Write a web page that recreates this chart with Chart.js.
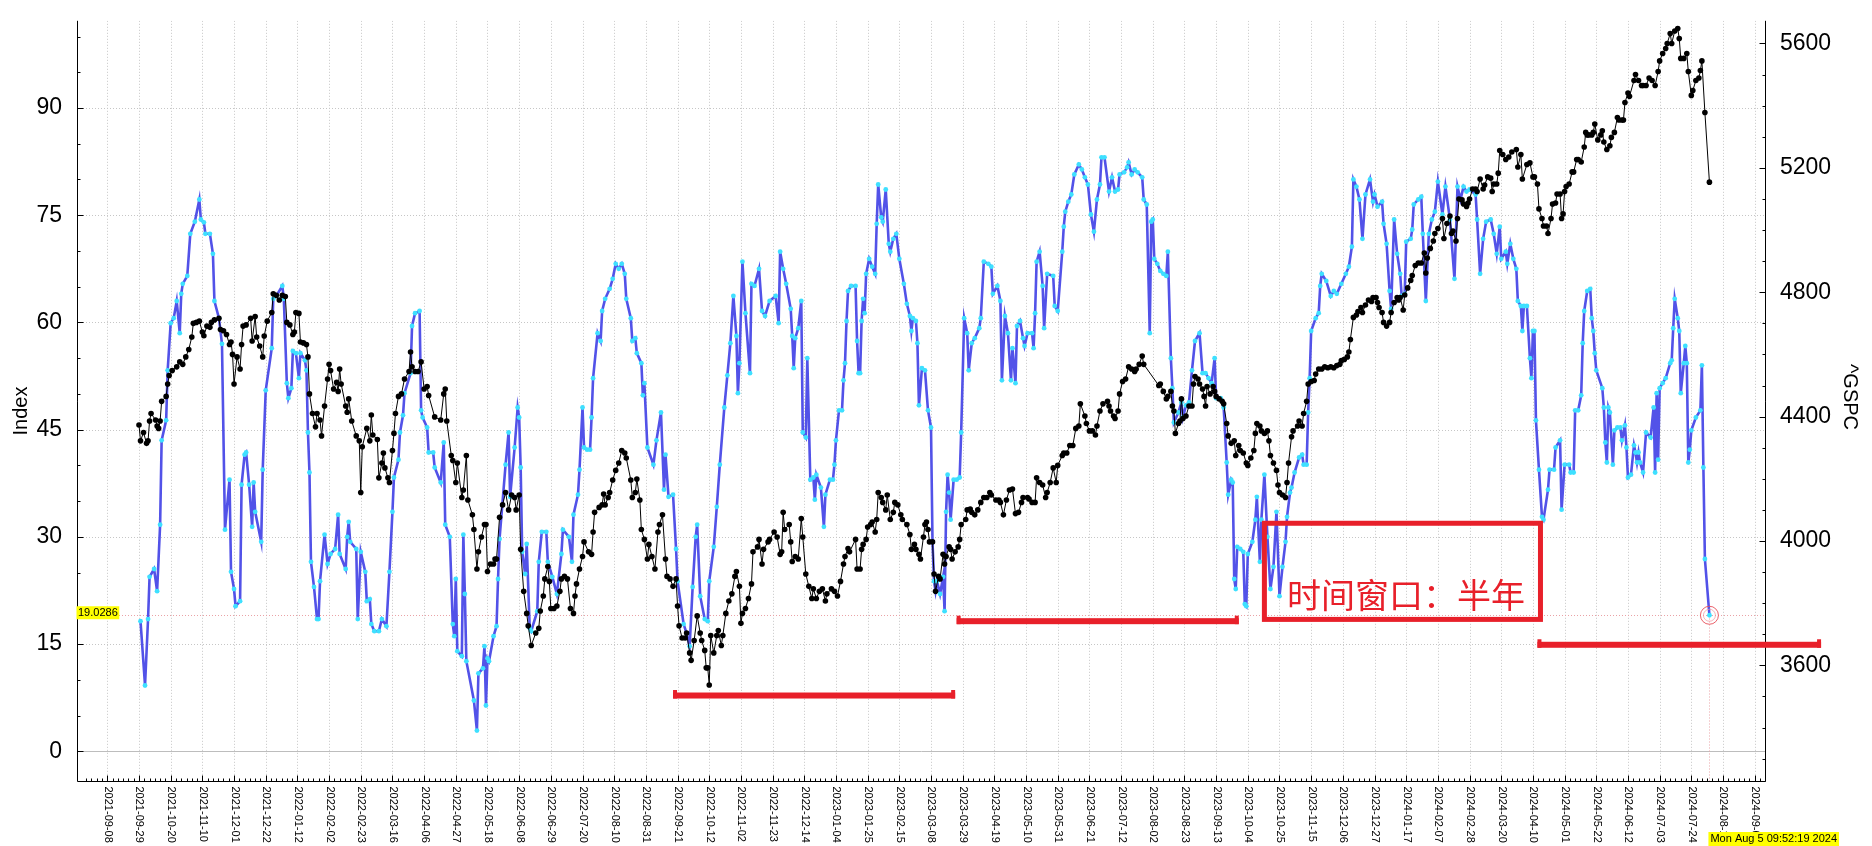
<!DOCTYPE html>
<html>
<head>
<meta charset="utf-8">
<script src="https://cdn.jsdelivr.net/npm/chart.js@4.4.0/dist/chart.umd.min.js"></script>
<style>
  html, body { margin: 0; padding: 0; background: #fff; overflow: hidden; }
  #wrap { width: 1872px; height: 846px; }
</style>
</head>
<body>
<div id="wrap"><canvas id="chart" width="1872" height="846"></canvas></div>
<script>
// x values are days after 2021-09-08 (first x tick)
const T0 = Date.UTC(2021, 8, 8);

// blue "Index" series: [day, value]
const fearGreed = [
  [22,18.2],[25,9.2],[27,18.5],[28,24.4],[31,25.5],[33,22.4],[35,31.7],[36,43.5],[39,46.3],[40,53.3],
  [42,59.9],[44,60.6],[46,63],[48,58.5],[49,64],[50,65.4],[53,66.5],[55,72.4],[58,74.1],[61,77.2],
  [62,74.4],[64,74],[65,72.4],[68,72.4],[70,69.6],[71,63],[74,60.6],[76,57],[78,31],[81,38],
  [82,25.1],[84,22.7],[85,20.3],[88,21],[89,37.3],[91,41.5],[92,41.8],[94,37.3],[96,31.4],[97,37.6],
  [98,33.5],[102,29.3],[103,39.4],[105,50.5],[109,56.4],[110,63.3],[112,63.7],[116,65.1],[117,63.3],[119,51.5],
  [120,49.4],[122,50.8],[123,56],[125,55.7],[127,52.2],[128,55.7],[131,54.7],[132,53.3],[133,44.6],[134,39],
  [135,26.5],[137,23],[139,18.5],[140,18.5],[141,23.8],[144,30.3],[146,26.2],[148,27.6],[151,28.3],[153,33.1],
  [154,27.6],[158,25.5],[159,30],[160,32.1],[161,29.3],[165,28.3],[166,18.5],[168,27.9],[171,25.1],[172,21],
  [174,21.3],[175,17.8],[177,16.8],[180,16.8],[182,18.5],[185,17.5],[187,25.1],[189,33.5],[190,38.3],[193,40.8],
  [194,44.6],[196,47],[197,50.1],[201,52.9],[202,59.5],[204,61.3],[207,61.6],[208,47.7],[209,46.7],[212,45.3],
  [213,41.8],[216,41.8],[217,39.7],[221,37.6],[223,43.2],[224,31.7],[227,30],[229,17.8],[230,16.1],[231,24.1],
  [232,14],[235,13.3],[236,30.3],[237,22],[238,12.6],[243,7.1],[245,2.9],[246,10.9],[249,11.6],[250,14.7],
  [251,6.4],[252,13],[253,12.6],[256,16.1],[258,17.5],[259,24.1],[260,29.7],[264,40.1],[266,44.6],[267,35.6],
  [270,42.5],[272,48.1],[273,46.7],[274,39.7],[275,27.9],[277,24.8],[278,29],[280,17.2],[281,16.8],[285,19.6],
  [286,26.5],[288,30.7],[291,30.7],[292,26.5],[295,24.4],[298,22],[301,27.6],[302,31],[306,30],[308,26.5],
  [309,33.1],[312,35.9],[313,39.4],[315,48.1],[316,42.5],[318,42.2],[320,42.2],[321,46.7],[322,52.2],[325,58.5],
  [327,57.4],[328,61.6],[330,63.3],[333,64.7],[335,66.1],[337,68.2],[339,67.5],[341,68.2],[343,66.8],[344,63.3],
  [347,60.6],[348,57.4],[350,57.8],[351,55.7],[354,54.3],[355,49.8],[356,51.5],[358,42.5],[362,40.1],[364,43.5],
  [367,47.4],[369,36.6],[370,41.5],[372,35.6],[375,35.9],[377,28.3],[378,23.8],[382,17.8],[384,16.5],[386,14.7],
  [388,23],[390,30],[391,31.7],[393,21.7],[396,18.5],[398,18.2],[399,23.8],[402,28.6],[404,34.2],[406,40.1],
  [409,48.1],[411,52.6],[413,57.1],[415,63.7],[417,58.1],[418,50.1],[419,54.3],[421,68.5],[423,61.3],[426,52.9],
  [427,65.4],[429,65.1],[432,67.5],[434,61.6],[436,60.9],[439,63],[443,63.7],[445,59.9],[446,69.9],[448,67.5],
  [450,65.4],[453,61.9],[454,58.1],[455,53.6],[456,57.8],[458,59.2],[460,63],[461,44.6],[463,43.9],[464,55],
  [466,38],[468,38.3],[469,35.2],[470,38.7],[473,36.9],[475,31.4],[476,35.9],[479,38],[481,38],[482,40.1],
  [483,43.5],[485,47.7],[487,47.7],[488,51.9],[489,54.3],[490,60.2],[491,64.4],[493,65.1],[496,65.1],[497,57.4],
  [498,52.9],[499,52.9],[500,60.2],[501,63.3],[502,61.3],[503,66.8],[505,68.9],[507,67.8],[509,66.8],[510,73.8],
  [511,79.3],[513,74.7],[514,74.1],[516,78.6],[518,71],[519,69.9],[521,71.7],[523,72.4],[525,68.9],[528,65.4],
  [530,62.6],[532,60.9],[533,58.8],[534,60.6],[536,60.2],[537,57.1],[538,48.4],[540,53.6],[542,53.3],[544,47.7],
  [546,45.3],[547,29.3],[548,23.8],[549,22.4],[550,23.8],[552,22],[554,24.4],[555,19.6],[556,33.5],[557,38.7],
  [558,36.2],[559,32.4],[561,38],[563,38],[565,38.3],[566,44.6],[568,60.6],[570,58.5],[571,53.3],[573,57.1],
  [575,57.8],[578,59.2],[579,60.6],[581,68.5],[584,68.2],[586,67.8],[587,64],[590,65.1],[592,63],[593,51.9],
  [595,60.9],[597,58.5],[599,51.9],[600,56.4],[602,51.5],[603,59.5],[605,60.2],[607,57.8],[608,56.7],[610,58.5],
  [613,58.5],[614,56.4],[615,61.3],[616,68.5],[618,69.9],[620,65.1],[621,59.2],[623,66.8],[627,66.5],[628,62.3],
  [630,61.6],[633,69.9],[634,73.4],[635,75.5],[637,76.9],[639,77.9],[641,80.7],[644,82.1],[646,81.4],[648,80.3],
  [650,79.3],[652,75.1],[654,72.7],[656,77.2],[658,79.3],[659,83.1],[661,83.1],[664,78.3],[666,80.3],[668,78.3],
  [670,78.6],[671,80.7],[674,81],[676,81.7],[677,82.4],[679,80.7],[681,81.4],[683,81],[686,80.3],[687,77.2],
  [689,76.5],[691,58.5],[692,74.1],[693,74.4],[694,68.9],[696,68.2],[698,67.2],[700,66.8],[702,66.5],[703,69.9],
  [705,55],[706,50.8],[707,46],[710,47.4],[712,48.8],[713,46.7],[715,48.4],[717,48.8],[719,53.3],[721,57.4],
  [724,58.5],[726,52.9],[728,52.9],[730,52.2],[732,51.5],[734,55],[735,49.4],[738,49.4],[740,48.1],[742,40.4],
  [743,35.9],[745,38],[746,37.6],[747,24.1],[748,22.7],[749,28.6],[751,28.3],[753,27.9],[754,20.6],[755,20.3],
  [756,27.6],[759,29.3],[761,32.4],[762,35.6],[764,26.5],[765,32.4],[767,38.7],[769,30],[771,22.7],[773,25.8],
  [775,33.5],[777,21.7],[779,25.8],[781,29.3],[782,32.8],[784,36.2],[785,36.9],[787,39],[790,41.1],[792,41.5],
  [793,40.1],[795,40.1],[796,47.4],[797,52.2],[798,58.8],[801,60.6],[803,61.3],[804,65.1],[805,66.8],[808,65.8],
  [811,63.7],[813,64.4],[815,64],[818,65.4],[821,66.8],[823,67.8],[825,70.6],[826,80],[828,79],[830,77.2],
  [832,71.7],[834,77.9],[837,80],[839,76.9],[840,77.9],[842,76.2],[845,76.9],[846,73.8],[848,71],[850,64.4],
  [851,61.9],[853,74.4],[855,69.6],[857,66.8],[858,63.7],[860,64],[861,71.3],[864,71.7],[865,73],[866,76.5],
  [869,77.2],[871,77.6],[872,72.4],[874,63],[876,72.4],[878,74.4],[880,75.5],[882,79.7],[885,75.1],[887,79],
  [890,74.4],[893,66.1],[895,79],[897,77.2],[899,79],[901,78.3],[903,78.6],[907,77.9],[908,74.4],[910,66.8],
  [912,71.7],[914,74.1],[917,74.4],[919,72.4],[921,69.6],[923,73.4],[924,68.9],[927,69.9],[928,68.2],[930,71],
  [932,68.9],[934,67.5],[935,63],[937,62.3],[938,58.8],[939,62.3],[941,62.3],[943,55],[944,52.2],[945,58.8],
  [946,58.8],[947,46.3],[949,39.4],[951,32.8],[952,32.4],[955,36.6],[956,39.4],[959,39.4],[960,42.5],[963,43.5],
  [964,33.8],[966,40.1],[969,40.1],[970,39],[972,39],[973,47.7],[975,47.7],[977,49.8],[978,57.1],[979,61.6],
  [981,64.4],[983,64.7],[984,60.6],[985,58.8],[986,55.7],[987,53.3],[991,50.8],[992,48.1],[993,43.2],[994,40.4],
  [995,48.1],[996,47.4],[998,40.1],[999,44.9],[1001,45.3],[1003,45.3],[1004,43.5],[1006,45.6],[1007,42.5],[1008,38.3],
  [1010,38.7],[1012,42.8],[1013,41.8],[1014,40.4],[1015,41.8],[1016,40.4],[1018,39],[1020,44.6],[1023,43.9],[1025,48.1],
  [1026,39],[1027,50.1],[1028,40.8],[1029,50.8],[1031,51.5],[1033,52.2],[1036,54.3],[1037,54.7],[1038,59.2],[1039,63.3],
  [1041,60.6],[1042,58.8],[1043,50.1],[1045,54.3],[1046,56.7],[1047,54.3],[1048,40.4],[1049,42.2],[1050,44.9],[1053,46.7],
  [1056,47.7],[1057,54],[1058,39.7],[1059,26.9],[1062,19.0286]
];

// black ^GSPC series: [day, close]
const gspc = [
  [21,4373],[22,4322],[24,4349],[26,4314],[27,4322],[28,4386],[29,4410],[32,4389],[33,4370],[34,4362],
  [35,4386],[36,4449],[39,4465],[40,4505],[41,4532],[43,4548],[46,4560],[48,4576],[50,4568],[52,4592],
  [54,4616],[56,4656],[57,4700],[59,4703],[61,4707],[63,4672],[64,4660],[66,4691],[68,4687],[69,4703],
  [71,4711],[74,4716],[75,4680],[77,4676],[79,4664],[81,4632],[82,4640],[83,4600],[84,4505],[86,4592],
  [88,4553],[89,4632],[90,4691],[92,4695],[95,4716],[96,4643],[98,4722],[99,4656],[101,4627],[103,4592],
  [104,4659],[106,4707],[109,4735],[110,4795],[112,4790],[114,4775],[116,4790],[118,4786],[119,4703],[121,4695],
  [123,4664],[124,4672],[125,4735],[127,4732],[128,4640],[130,4637],[132,4632],[133,4592],[134,4473],[136,4410],
  [138,4367],[139,4410],[141,4389],[142,4338],[144,4434],[146,4521],[147,4568],[148,4548],[150,4489],[152,4510],
  [153,4481],[154,4553],[155,4505],[158,4434],[159,4414],[160,4457],[162,4386],[165,4338],[167,4322],[168,4156],
  [169,4303],[172,4362],[174,4322],[175,4405],[176,4341],[179,4326],[180,4203],[182,4251],[183,4283],[184,4235],
  [186,4203],[187,4188],[189,4291],[190,4346],[191,4410],[193,4465],[195,4473],[197,4521],[200,4545],[201,4608],
  [202,4560],[204,4545],[206,4545],[208,4576],[210,4489],[212,4497],[213,4468],[217,4399],[221,4389],[223,4473],
  [224,4489],[225,4386],[228,4275],[229,4259],[231,4188],[232,4251],[235,4140],[236,4164],[238,4275],[239,4132],
  [242,4084],[243,4037],[245,3910],[246,3965],[248,4013],[250,4053],[251,4053],[252,3902],[254,3926],[256,3926],
  [257,3942],[258,3942],[260,4076],[262,4116],[264,4156],[266,4100],[268,4148],[270,4140],[271,4100],[273,4148],
  [274,3973],[276,3838],[278,3767],[279,3727],[281,3664],[284,3704],[286,3719],[287,3775],[289,3823],[290,3878],
  [292,3918],[293,3870],[294,3783],[296,3783],[298,3791],[300,3838],[301,3878],[303,3886],[305,3878],[307,3783],
  [309,3767],[310,3823],[311,3862],[313,3910],[315,3950],[316,3997],[319,3965],[321,3957],[322,4029],[323,4092],
  [326,4108],[328,4116],[329,4151],[330,4116],[332,4140],[333,4156],[335,4196],[337,4227],[339,4251],[341,4291],
  [343,4283],[344,4267],[347,4196],[348,4140],[350,4156],[351,4199],[353,4132],[354,4037],[356,4005],[358,3942],
  [359,3989],[361,3950],[363,3910],[365,4029],[366,4053],[368,4084],[370,3942],[371,3886],[373,3878],[375,3854],
  [377,3878],[378,3791],[379,3727],[381,3688],[383,3688],[384,3704],[386,3640],[387,3616],[389,3680],[391,3759],
  [393,3704],[394,3680],[396,3648],[397,3592],[398,3592],[399,3537],[400,3696],[402,3640],[404,3696],[405,3712],
  [407,3664],[408,3696],[410,3767],[412,3807],[414,3830],[416,3886],[417,3902],[419,3854],[420,3735],[421,3767],
  [423,3783],[425,3815],[427,3862],[428,3965],[431,3981],[432,4005],[434,3926],[435,3973],[438,3997],[439,4005],
  [442,4029],[444,4013],[446,3957],[447,3965],[448,4092],[449,4037],[452,4053],[453,3997],[454,3934],[456,3950],
  [458,3942],[460,4072],[461,4013],[463,3894],[465,3854],[467,3815],[468,3846],[470,3815],[472,3838],[474,3846],
  [476,3807],[477,3830],[480,3846],[482,3838],[484,3823],[486,3870],[488,3926],[489,3950],[491,3976],[492,3965],
  [496,4005],[497,3910],[499,3910],[500,3973],[501,3989],[503,4005],[504,4045],[506,4053],[507,4061],[509,4029],
  [510,4069],[511,4156],[513,4140],[514,4124],[516,4100],[517,4148],[519,4069],[521,4092],[522,4124],[524,4116],
  [526,4084],[527,4069],[530,4053],[532,4021],[533,3973],[535,3989],[536,3973],[538,3957],[539,3942],[541,4013],
  [542,4053],[543,4061],[544,4037],[545,3997],[547,3997],[548,3894],[549,3838],[551,3886],[552,3878],[554,3957],
  [555,3926],[556,3950],[558,3981],[559,3973],[560,3942],[562,3965],[564,3981],[565,4005],[566,4053],[569,4069],
  [570,4100],[572,4103],[573,4092],[575,4084],[577,4100],[579,4124],[581,4140],[583,4140],[585,4156],[586,4148],
  [589,4132],[591,4132],[592,4124],[594,4084],[596,4132],[598,4164],[600,4167],[602,4088],[604,4092],[606,4124],
  [607,4140],[610,4140],[611,4135],[613,4124],[615,4124],[616,4203],[618,4188],[620,4180],[622,4140],[623,4156],
  [625,4188],[627,4235],[629,4188],[630,4243],[633,4275],[634,4283],[636,4283],[638,4307],[640,4307],[642,4362],
  [644,4370],[645,4441],[648,4402],[649,4378],[651,4354],[653,4354],[655,4341],[656,4370],[658,4418],[660,4441],
  [663,4449],[664,4434],[665,4418],[667,4402],[668,4394],[670,4418],[671,4473],[673,4513],[675,4521],[677,4560],
  [679,4553],[681,4545],[682,4553],[684,4568],[686,4595],[687,4568],[697,4500],[698,4505],[700,4481],[702,4457],
  [703,4465],[705,4481],[706,4434],[707,4418],[708,4346],[710,4378],[711,4386],[712,4457],[713,4394],[715,4402],
  [717,4434],[719,4434],[720,4505],[721,4529],[723,4521],[724,4505],[726,4489],[727,4465],[728,4434],[729,4497],
  [731,4473],[733,4497],[734,4481],[735,4465],[737,4457],[739,4449],[740,4441],[742,4378],[743,4338],[745,4314],
  [747,4322],[748,4275],[750,4307],[751,4291],[753,4283],[755,4251],[756,4243],[758,4267],[760,4291],[761,4346],
  [762,4378],[764,4370],[765,4354],[767,4346],[769,4354],[770,4322],[771,4275],[773,4251],[775,4227],[776,4180],
  [777,4156],[779,4148],[781,4140],[782,4188],[783,4251],[785,4335],[786,4354],[789,4370],[790,4386],[792,4370],
  [793,4410],[795,4449],[796,4505],[798,4513],[800,4516],[801,4537],[803,4553],[805,4553],[807,4560],[809,4557],
  [811,4560],[813,4557],[815,4564],[817,4568],[818,4580],[820,4584],[822,4592],[823,4608],[824,4648],[826,4719],
  [828,4727],[829,4738],[831,4751],[832,4735],[834,4759],[836,4775],[838,4770],[839,4783],[841,4783],[842,4767],
  [843,4751],[845,4735],[846,4703],[848,4691],[850,4703],[851,4735],[853,4767],[855,4783],[856,4775],[857,4783],
  [859,4743],[860,4791],[862,4814],[864,4838],[865,4854],[867,4886],[869,4894],[871,4894],[873,4926],[874,4862],
  [875,4910],[877,4941],[879,4965],[880,4989],[882,5005],[885,5037],[886,4973],[888,5021],[890,5045],[891,4989],
  [892,4997],[894,4965],[895,5037],[896,5100],[898,5097],[899,5084],[901,5076],[902,5087],[903,5100],[905,5132],
  [907,5132],[908,5124],[910,5164],[912,5132],[913,5145],[915,5171],[917,5167],[918,5124],[919,5148],[921,5148],
  [922,5183],[923,5256],[925,5243],[927,5227],[929,5235],[931,5251],[934,5259],[935,5203],[937,5243],[938,5164],
  [941,5211],[943,5216],[945,5171],[946,5171],[948,5148],[949,5068],[951,5037],[952,5013],[954,5013],[955,4989],
  [957,5037],[958,5084],[960,5087],[961,5116],[963,5116],[964,5037],[965,5052],[966,5124],[967,5140],[969,5148],
  [971,5187],[972,5187],[974,5227],[975,5227],[977,5219],[979,5267],[980,5314],[981,5306],[982,5306],[984,5306],
  [985,5314],[986,5341],[988,5290],[990,5306],[991,5319],[992,5283],[994,5259],[996,5271],[997,5298],[999,5314],
  [1001,5362],[1002,5354],[1004,5354],[1005,5354],[1006,5410],[1008,5441],[1009,5430],[1012,5481],[1013,5500],[1015,5481],
  [1017,5465],[1018,5465],[1020,5465],[1022,5489],[1024,5481],[1026,5465],[1028,5510],[1029,5544],[1031,5568],[1033,5584],
  [1034,5600],[1036,5632],[1037,5600],[1039,5640],[1041,5648],[1042,5616],[1043,5552],[1045,5552],[1047,5568],[1048,5510],
  [1050,5433],[1051,5449],[1053,5481],[1055,5489],[1056,5513],[1057,5544],[1059,5378],[1062,5154]
];

// axis ticks
const xTickStep = 21;               // one label every three weeks
const xTickCount = 53;              // 2021-09-08 ... 2024-09-04
const leftTicks = [0, 15, 30, 45, 60, 75, 90];
const rightTicks = [3600, 4000, 4400, 4800, 5200, 5600];

// cursor readout
const cursorDay = 1062;
const cursorValue = 19.0286;
const cursorText = 'Mon Aug 5 09:52:19 2024';

// red half-year windows: [fromDay, toDay, indexLevel]
const windows = [[375, 562, 7.8], [563, 750, 18.2], [948, 1136, 14.9]];
const noteBox = [767, 950, 31.9, 18.45];
const noteText = '时间窗口：半年';

const RED = '#e8202a';
const FONT = '"Liberation Sans", Arial, sans-serif';

const xTicks = [];
for (let i = 0; i < xTickCount; i++) xTicks.push(i * xTickStep);
const dayLabel = d => new Date(T0 + d * 86400000).toISOString().slice(0, 10);

function seg(ctx, x1, y1, x2, y2) {
  ctx.beginPath(); ctx.moveTo(x1, y1); ctx.lineTo(x2, y2); ctx.stroke();
}

const decor = {
  id: 'decor',
  beforeDatasetsDraw(chart) {
    const { ctx, chartArea: a, scales: { x, y } } = chart;
    ctx.save();
    ctx.beginPath(); ctx.rect(a.left, a.top, a.right - a.left, a.bottom - a.top); ctx.clip();
    ctx.lineWidth = 1;
    ctx.strokeStyle = '#c6c6c6';
    ctx.setLineDash([1, 2]);
    xTicks.forEach(d => {
      const px = Math.round(x.getPixelForValue(d)) + 0.5;
      seg(ctx, px, a.top, px, a.bottom);
    });
    leftTicks.filter(v => v !== 0).forEach(v => {
      const py = Math.round(y.getPixelForValue(v)) + 0.5;
      seg(ctx, a.left, py, a.right, py);
    });
    ctx.setLineDash([]);
    ctx.strokeStyle = '#bdbdbd';
    const zy = Math.round(y.getPixelForValue(0)) + 0.5;
    seg(ctx, a.left, zy, a.right, zy);
    // crosshair
    ctx.strokeStyle = '#eaa2a6';
    ctx.setLineDash([1, 2]);
    const cy = Math.round(y.getPixelForValue(cursorValue)) + 0.5;
    const cx = Math.round(x.getPixelForValue(cursorDay)) + 0.5;
    seg(ctx, a.left, cy, a.right, cy);
    seg(ctx, cx, cy, cx, a.bottom);
    ctx.restore();
  },
  afterDraw(chart) {
    const { ctx, chartArea: a, scales: { x, y, y1 } } = chart;
    ctx.save();
    // axis lines
    ctx.strokeStyle = '#000';
    ctx.lineWidth = 1;
    const L = Math.round(a.left) + 0.5, R = Math.round(a.right) - 0.5, B = Math.round(a.bottom) + 0.5;
    seg(ctx, L, a.top, L, B);
    seg(ctx, R, a.top, R, B);
    seg(ctx, L, B, R, B);
    // left axis minor / major ticks
    for (let v = 0; v <= 100; v += 5) {
      const py = Math.round(y.getPixelForValue(v)) + 0.5;
      seg(ctx, L, py, L + (v % 15 === 0 ? 6 : 3), py);
    }
    for (let v = 3300; v <= 5600; v += 100) {
      const py = Math.round(y1.getPixelForValue(v)) + 0.5;
      seg(ctx, R, py, R - (v % 400 === 0 ? 6 : 3), py);
    }
    for (let d = -14; d <= 1099; d += 3.5) {
      const px = Math.round(x.getPixelForValue(d)) + 0.5;
      const major = Math.abs(d % 21) < 0.01;
      seg(ctx, px, B, px, B - (major ? 6 : 3));
    }
    // x labels, rotated clockwise
    ctx.fillStyle = '#000';
    ctx.font = '11px ' + FONT;
    ctx.textAlign = 'left';
    ctx.textBaseline = 'middle';
    xTicks.forEach(d => {
      const px = x.getPixelForValue(d);
      ctx.save();
      ctx.translate(px + 0.5, B + 5);
      ctx.rotate(Math.PI / 2);
      ctx.fillText(dayLabel(d), 0, 0);
      ctx.restore();
    });
    // axis titles
    ctx.font = '20px ' + FONT;
    ctx.textAlign = 'center';
    ctx.save();
    ctx.translate(21, 411);
    ctx.rotate(-Math.PI / 2);
    ctx.fillText('Index', 0, 0);
    ctx.restore();
    ctx.save();
    ctx.translate(1850, 397);
    ctx.rotate(Math.PI / 2);
    ctx.fillText('^GSPC', 0, 0);
    ctx.restore();

    // red windows
    ctx.fillStyle = RED;
    windows.forEach(([d0, d1, v]) => {
      const x0 = x.getPixelForValue(d0), x1 = x.getPixelForValue(d1);
      const py = y.getPixelForValue(v);
      ctx.fillRect(x0, py - 3, x1 - x0, 6);
      ctx.fillRect(x0, py - 5.5, 4, 8.5);
      ctx.fillRect(x1 - 4, py - 5.5, 4, 8.5);
    });
    // note box
    ctx.strokeStyle = RED;
    ctx.lineWidth = 5;
    const bx0 = x.getPixelForValue(noteBox[0]), bx1 = x.getPixelForValue(noteBox[1]);
    const by0 = y.getPixelForValue(noteBox[2]), by1 = y.getPixelForValue(noteBox[3]);
    ctx.strokeRect(bx0, by0, bx1 - bx0, by1 - by0);
    ctx.font = '34px "Noto Sans CJK SC", sans-serif';
    ctx.textAlign = 'left';
    ctx.textBaseline = 'middle';
    ctx.fillText(noteText, x.getPixelForValue(782), y.getPixelForValue(21.8));

    // cursor ring
    const cx = x.getPixelForValue(cursorDay), cy = y.getPixelForValue(cursorValue);
    ctx.lineWidth = 1;
    ctx.strokeStyle = 'rgba(232,80,90,0.9)';
    ctx.beginPath(); ctx.arc(cx, cy, 9, 0, Math.PI * 2); ctx.stroke();
    ctx.strokeStyle = 'rgba(240,150,160,0.7)';
    ctx.beginPath(); ctx.arc(cx, cy, 6, 0, Math.PI * 2); ctx.stroke();

    // yellow readouts
    ctx.font = '11px ' + FONT;
    ctx.textBaseline = 'middle';
    const t1 = cursorValue.toFixed(4);
    const w1 = ctx.measureText(t1).width + 3;
    ctx.fillStyle = '#ffff00';
    ctx.fillRect(L - 1, cy - 9, w1, 13);
    ctx.fillStyle = '#000';
    ctx.fillText(t1, L + 0.5, cy - 2.5);
    const w2 = ctx.measureText(cursorText).width + 4;
    ctx.fillStyle = '#ffff00';
    ctx.fillRect(cx - 1, 832, w2, 14);
    ctx.fillStyle = '#000';
    ctx.fillText(cursorText, cx + 1, 839);
    ctx.restore();
  }
};

new Chart(document.getElementById('chart'), {
  type: 'line',
  data: {
    datasets: [
      {
        label: '^GSPC',
        data: gspc.map(([d, v]) => ({ x: d, y: v })),
        yAxisID: 'y1',
        borderColor: '#000',
        borderWidth: 1,
        pointRadius: 2.8,
        pointBackgroundColor: '#000',
        pointBorderWidth: 0,
        tension: 0,
        order: 0
      },
      {
        label: 'Index',
        data: fearGreed.map(([d, v]) => ({ x: d, y: v })),
        yAxisID: 'y',
        borderColor: '#5252e8',
        borderWidth: 2.6,
        pointRadius: 2.4,
        pointBackgroundColor: '#3ee0ff',
        pointBorderWidth: 0,
        tension: 0,
        order: 1
      }
    ]
  },
  options: {
    responsive: false,
    animation: false,
    devicePixelRatio: 1,
    layout: { padding: { top: 14, left: 0, right: 0, bottom: 0 } },
    plugins: { legend: { display: false }, tooltip: { enabled: false } },
    scales: {
      x: {
        type: 'linear',
        min: -20.1,
        max: 1099.5,
        grid: { display: false },
        border: { display: false },
        ticks: { display: false },
        afterFit: s => { s.height = 65; }
      },
      y: {
        position: 'left',
        min: -4.16,
        max: 102.2,
        grid: { display: false },
        border: { display: false },
        afterBuildTicks: s => { s.ticks = leftTicks.map(v => ({ value: v })); },
        ticks: { color: '#000', padding: 7, font: { family: FONT, size: 23 }, callback: v => String(v) },
        afterFit: s => { s.width = 77; }
      },
      y1: {
        position: 'right',
        min: 3228,
        max: 5673,
        grid: { display: false },
        border: { display: false },
        afterBuildTicks: s => { s.ticks = rightTicks.map(v => ({ value: v })); },
        ticks: { color: '#000', padding: 6, font: { family: FONT, size: 23 }, callback: v => String(v) },
        afterFit: s => { s.width = 106; }
      }
    }
  },
  plugins: [decor]
});
</script>
</body>
</html>
